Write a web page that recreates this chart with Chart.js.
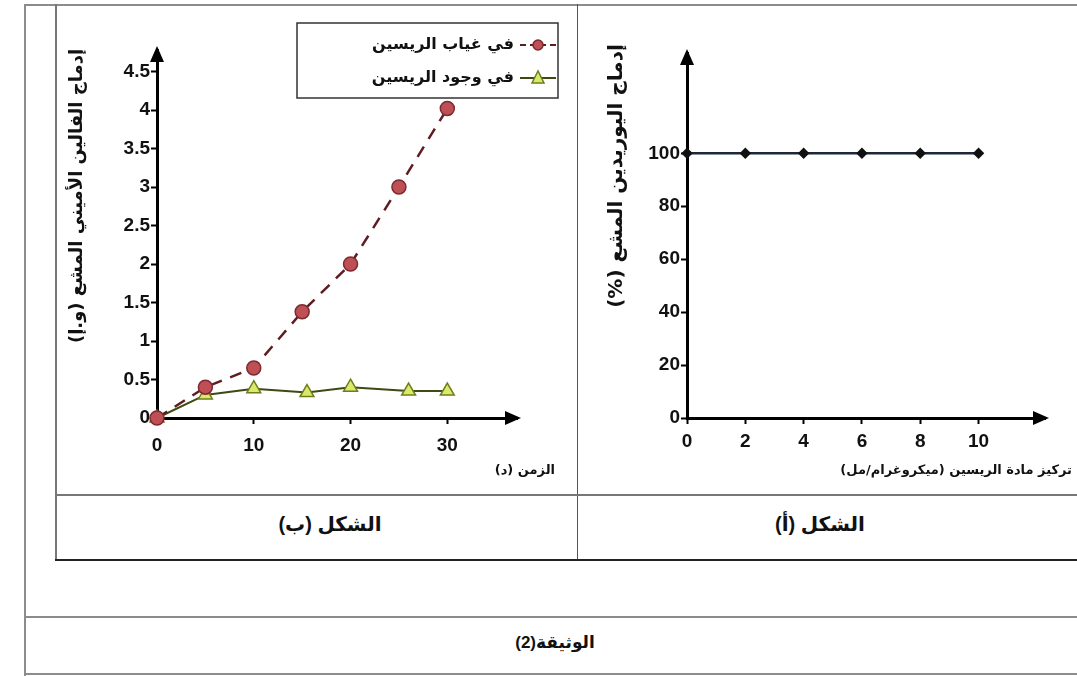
<!DOCTYPE html>
<html lang="ar">
<head>
<meta charset="utf-8">
<script src="https://cdn.jsdelivr.net/npm/chart.js@4.4.0/dist/chart.umd.min.js"></script>
<style>
  body { margin: 0; background: #fff; width: 1077px; height: 676px; overflow: hidden; position: relative;
         font-family: "Liberation Sans", "DejaVu Sans", sans-serif; }
  .ln { position: absolute; background: #8c8c8c; }
  .cap { position: absolute; font-weight: bold; color: #111; direction: rtl; text-align: center; }
  canvas { position: absolute; }
</style>
</head>
<body>
<!-- cadre du tableau -->
<div class="ln" style="left:24px;top:4px;width:1053px;height:2px"></div>
<div class="ln" style="left:24px;top:4px;width:2px;height:672px"></div>
<div class="ln" style="left:55px;top:4px;width:2px;height:557px;background:#777"></div>
<div class="ln" style="left:577px;top:4px;width:1px;height:557px;background:#555"></div>
<div class="ln" style="left:55px;top:494px;width:1022px;height:2px;background:#777"></div>
<div class="ln" style="left:55px;top:559px;width:1022px;height:2px;background:#222"></div>
<div class="ln" style="left:24px;top:616px;width:1053px;height:2px"></div>
<div class="ln" style="left:24px;top:673px;width:1053px;height:2px"></div>

<div class="cap" style="left:230px;top:512px;width:200px;font-size:20px">الشكل (ب)</div>
<div class="cap" style="left:720px;top:512px;width:200px;font-size:20px">الشكل (أ)</div>
<div class="cap" style="left:455px;top:632px;width:200px;font-size:17px">الوثيقة(2)</div>

<canvas id="figB" width="520" height="488" style="left:57px;top:6px"></canvas>
<canvas id="figA" width="498" height="488" style="left:579px;top:6px"></canvas>

<script>
// Figure (b) : incorporation in time
const tempsSans = [0, 5, 10, 15, 20, 25, 30];
const sansRicine = [0, 0.4, 0.65, 1.38, 2.0, 3.0, 4.02];
const tempsAvec = [0, 5, 10, 15.5, 20, 26, 30];
const avecRicine = [0, 0.3, 0.38, 0.33, 0.4, 0.35, 0.35];
const xTicksB = [0, 10, 20, 30];
const yTicksB = [0, 0.5, 1, 1.5, 2, 2.5, 3, 3.5, 4, 4.5];

// Figure (a) : uridine vs ricin concentration
const concRicine = [0, 2, 4, 6, 8, 10];
const uridine = [100, 100, 100, 100, 100, 100];
const xTicksA = [0, 2, 4, 6, 8, 10];
const yTicksA = [0, 20, 40, 60, 80, 100];

const labelSans = 'في غياب الريسين';
const labelAvec = 'في وجود الريسين';

const tickFont = { family: '"Liberation Sans", "DejaVu Sans", sans-serif', size: 19, weight: 'bold' };
const arFont = '"DejaVu Sans", "Liberation Sans", sans-serif';

// arrows, axis titles and legend box
const decor = {
    id: 'decor',
    afterDraw(chart, args, o) {
        const ctx = chart.ctx, a = chart.chartArea;
        ctx.save();
        ctx.fillStyle = '#000';
        ctx.beginPath();
        ctx.moveTo(a.left, a.top - 4);
        ctx.lineTo(a.left - 7, a.top + 12);
        ctx.lineTo(a.left + 7, a.top + 12);
        ctx.fill();
        ctx.beginPath();
        ctx.moveTo(a.right + 4, a.bottom);
        ctx.lineTo(a.right - 12, a.bottom - 7);
        ctx.lineTo(a.right - 12, a.bottom + 7);
        ctx.fill();

        ctx.fillStyle = '#111';
        ctx.direction = 'rtl';
        ctx.textBaseline = 'middle';
        ctx.font = 'bold 13px ' + arFont;
        ctx.textAlign = 'right';
        ctx.fillText(o.xTitle, o.xTitlePos[0], o.xTitlePos[1]);

        ctx.save();
        ctx.translate(o.yTitlePos[0], o.yTitlePos[1]);
        ctx.rotate(-Math.PI / 2);
        ctx.textAlign = 'center';
        ctx.font = 'bold ' + o.yTitleSize + 'px ' + arFont;
        ctx.fillText(o.yTitle, 0, 0);
        ctx.restore();

        if (o.legend) {
            const L = o.legend;
            ctx.strokeStyle = '#333';
            ctx.lineWidth = 1.5;
            ctx.strokeRect(L.x, L.y, L.w, L.h);
            ctx.font = 'bold 16px ' + arFont;
            ctx.textAlign = 'right';
            chart.data.datasets.forEach((ds, i) => {
                const cy = L.y + 22 + i * 33;
                const cx = L.x + L.w - 20;
                ctx.strokeStyle = ds.borderColor;
                ctx.lineWidth = 2;
                ctx.setLineDash(ds.borderDash ? [6, 4] : []);
                ctx.beginPath();
                ctx.moveTo(cx - 18, cy);
                ctx.lineTo(cx + 18, cy);
                ctx.stroke();
                ctx.setLineDash([]);
                ctx.fillStyle = ds.pointBackgroundColor;
                ctx.strokeStyle = ds.pointBorderColor;
                ctx.lineWidth = 1.5;
                ctx.beginPath();
                if (ds.pointStyle === 'triangle') {
                    ctx.moveTo(cx, cy - 7);
                    ctx.lineTo(cx - 6, cy + 5);
                    ctx.lineTo(cx + 6, cy + 5);
                    ctx.closePath();
                } else {
                    ctx.arc(cx, cy, 5, 0, Math.PI * 2);
                }
                ctx.fill();
                ctx.stroke();
                ctx.fillStyle = '#111';
                ctx.fillText(ds.label, cx - 24, cy);
            });
        }
        ctx.restore();
    }
};

function axisX(ticksArr, max, pad, height) {
    return {
        type: 'linear', min: 0, max: max,
        afterBuildTicks: s => { s.ticks = ticksArr.map(v => ({ value: v })); },
        afterFit: s => { s.height = height; },
        border: { display: true, color: '#000', width: 3 },
        grid: { drawOnChartArea: false, drawTicks: true, tickLength: 6, tickColor: '#000', tickWidth: 2 },
        ticks: { color: '#111', font: tickFont, padding: pad, maxRotation: 0, callback: v => String(v) }
    };
}
function axisY(ticksArr, max, width) {
    return {
        type: 'linear', min: 0, max: max,
        afterBuildTicks: s => { s.ticks = ticksArr.map(v => ({ value: v })); },
        afterFit: s => { s.width = width; },
        border: { display: true, color: '#000', width: 3 },
        grid: { drawOnChartArea: false, drawTicks: true, tickLength: 6, tickColor: '#000', tickWidth: 2 },
        ticks: { color: '#111', font: tickFont, padding: 1, callback: v => String(v) }
    };
}

new Chart(document.getElementById('figB').getContext('2d'), {
    type: 'line',
    data: {
        datasets: [
            {
                label: labelSans,
                data: tempsSans.map((t, i) => ({ x: t, y: sansRicine[i] })),
                borderColor: '#5e1d22',
                borderWidth: 2.5,
                borderDash: [12, 9],
                pointStyle: 'circle',
                pointRadius: 7,
                pointBackgroundColor: '#bd4f55',
                pointBorderColor: '#7a2a30',
                pointBorderWidth: 1.5,
                tension: 0,
                clip: false
            },
            {
                label: labelAvec,
                data: tempsAvec.map((t, i) => ({ x: t, y: avecRicine[i] })),
                borderColor: '#3d4a12',
                borderWidth: 2,
                pointStyle: 'triangle',
                pointRadius: 8,
                pointBackgroundColor: '#dbe96a',
                pointBorderColor: '#6f7d1c',
                pointBorderWidth: 1.5,
                tension: 0,
                clip: false
            }
        ]
    },
    options: {
        responsive: false,
        animation: false,
        layout: { padding: { left: 0, right: 60, top: 44, bottom: 0 } },
        scales: {
            x: axisX(xTicksB, 37.2, 10, 76),
            y: axisY(yTicksB, 4.78, 100)
        },
        plugins: {
            legend: { display: false },
            tooltip: { enabled: false },
            decor: {
                xTitle: 'الزمن (د)', xTitlePos: [498, 465],
                yTitle: 'إدماج الفالين الأميني المشع (و.إ)', yTitlePos: [20, 190], yTitleSize: 18,
                legend: { x: 240, y: 17, w: 261, h: 75 }
            }
        }
    },
    plugins: [decor]
});

new Chart(document.getElementById('figA').getContext('2d'), {
    type: 'line',
    data: {
        datasets: [{
            label: 'إدماج اليوريدين المشع',
            data: concRicine.map((c, i) => ({ x: c, y: uridine[i] })),
            borderColor: '#1e2738',
            borderWidth: 2.5,
            pointStyle: 'rectRot',
            pointRadius: 4,
            pointBackgroundColor: '#111',
            pointBorderColor: '#111',
            tension: 0,
            clip: false
        }]
    },
    options: {
        responsive: false,
        animation: false,
        layout: { padding: { left: 0, right: 32, top: 47, bottom: 0 } },
        scales: {
            x: axisX(xTicksA, 12.28, 6, 76),
            y: axisY(yTicksA, 137.9, 108)
        },
        plugins: {
            legend: { display: false },
            tooltip: { enabled: false },
            decor: {
                xTitle: 'تركيز مادة الريسين (ميكروغرام/مل)', xTitlePos: [493, 465],
                yTitle: 'إدماج اليوريدين المشع (%)', yTitlePos: [38, 170], yTitleSize: 20
            }
        }
    },
    plugins: [decor]
});
</script>
</body>
</html>
